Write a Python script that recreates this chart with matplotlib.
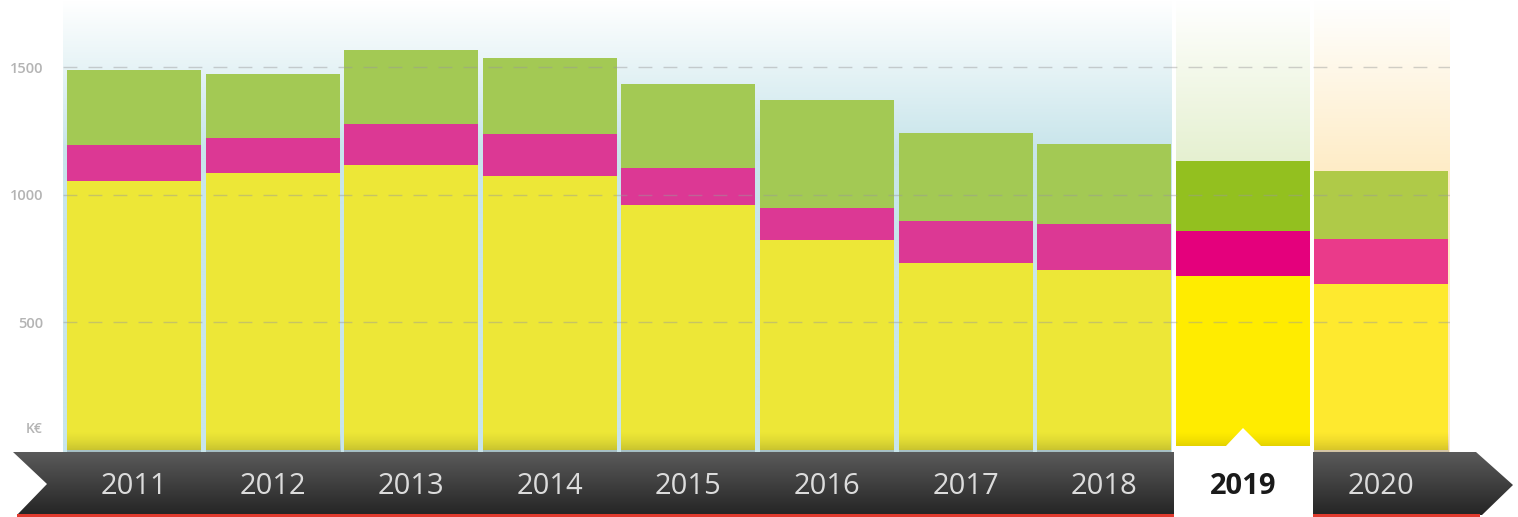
import numpy as np
import matplotlib
matplotlib.use("Agg")
import matplotlib.pyplot as plt
from matplotlib.patches import Polygon, Rectangle
from matplotlib.colors import to_rgb

# ---------------- data ----------------
years = ["2011", "2012", "2013", "2014", "2015", "2016", "2017", "2018", "2019", "2020"]
yellow_vals = [1055, 1086, 1117, 1074, 961, 824, 734, 707, 684, 652]
magenta_vals = [140, 137, 160, 164, 144, 125, 164, 180, 175, 176]
green_vals = [293, 250, 293, 297, 329, 422, 344, 312, 274, 266]
yticks = [500, 1000, 1500]
unit_label = "K€"
highlight = "2019"

# ---------------- styles ----------------
W, H = 1518, 517
plt.rcParams['font.family'] = ['Open Sans', 'DejaVu Sans']
fig = plt.figure(figsize=(W / 100, H / 100), dpi=100)

yellow_c = ["#ede737"] * 8 + ["#ffec00", "#fee92f"]
magenta_c = ["#dc3894"] * 8 + ["#e4007c", "#ea3a8a"]
green_c = ["#a3c954"] * 8 + ["#93c01f", "#afca48"]

def fx(px):
    return px / W

def fy(py):
    return 1 - py / H

# background axes (pixel coords)
bg = fig.add_axes([0, 0, 1, 1], zorder=0)
bg.set_xlim(0, W)
bg.set_ylim(H, 0)
bg.axis("off")

def vgrad(ax, x0, x1, y0, y1, c_top, c_bot, ymid=None):
    n = 256
    t = np.linspace(0, 1, n)
    if ymid is not None:
        t = np.clip(t / ymid, 0, 1)
    ct = np.array(to_rgb(c_top))
    cb = np.array(to_rgb(c_bot))
    img = ct[None, :] * (1 - t[:, None]) + cb[None, :] * t[:, None]
    img = img[:, None, :]
    ax.imshow(img, extent=(x0, x1, y1, y0), aspect="auto", interpolation="bilinear", zorder=0)

vgrad(bg, 63, 1172, 0, 452, "#ffffff", "#c8e5eb", ymid=0.33)
vgrad(bg, 1176, 1310, 0, 452, "#ffffff", "#e5f0d0", ymid=0.36)
vgrad(bg, 1314, 1450, 0, 452, "#ffffff", "#feecc6", ymid=0.38)

# main axes
px_per_unit = 0.2545
y_lo = -2 / px_per_unit
y_hi = 449 / px_per_unit
ax = fig.add_axes([fx(63), fy(452), fx(1450) - fx(63), fy(0) - fy(452)], zorder=1)
ax.patch.set_alpha(0)
x = np.arange(len(years))
spacing = 138.6
x_left = (63 - 134) / spacing
x_right = (1450 - 134) / spacing
ax.set_xlim(x_left, x_right)
ax.set_ylim(y_lo, y_hi)
bw = 134 / spacing
y = np.array(yellow_vals)
m = np.array(magenta_vals)
g = np.array(green_vals)
ax.bar(x, y, width=bw, color=yellow_c, zorder=2, linewidth=0)
ax.bar(x, m, bottom=y, width=bw, color=magenta_c, zorder=2, linewidth=0)
ax.bar(x, g, bottom=y + m, width=bw, color=green_c, zorder=2, linewidth=0)

# bottom shadow on bars
shade = np.zeros((64, 1, 4))
shade[:, 0, 3] = np.linspace(0, 0.18, 64) ** 1.5 / 0.18 ** 0.5
for xi in x:
    ax.imshow(shade, extent=(xi - bw / 2, xi + bw / 2, y_lo, 75), aspect="auto",
              interpolation="bilinear", zorder=3)
ax.set_xlim(x_left, x_right)
ax.set_ylim(y_lo, y_hi)

for t in yticks:
    ax.axhline(t, color="#9a9a9a", alpha=0.45, lw=1.0, dashes=(10, 8), zorder=4)
ax.set_yticks(yticks)
ax.set_yticklabels([str(t) for t in yticks], color="#b4b4b4", fontsize=10.5, fontweight="semibold")
ax.tick_params(axis="y", length=0, pad=14)
ax.set_xticks([])
for s in ax.spines.values():
    s.set_visible(False)

# overlay axes
ov = fig.add_axes([0, 0, 1, 1], zorder=2)
ov.set_xlim(0, W)
ov.set_ylim(H, 0)
ov.axis("off")
ov.text(43, 429, unit_label, ha="right", va="center", color="#b4b4b4", fontsize=10,
        fontweight="semibold")

# ribbon
rib_poly = [(13, 452), (1476, 452), (1513, 485), (1482, 515), (17, 515), (47, 484)]
ribbon = Polygon(rib_poly, closed=True, facecolor="none", edgecolor="none")
ov.add_patch(ribbon)
grad = np.linspace(0, 1, 128)[:, None]
ct = np.array(to_rgb("#5a5a5a"))
cb = np.array(to_rgb("#252525"))
rimg = (ct[None, :] * (1 - grad) + cb[None, :] * grad)[:, None, :]
im = ov.imshow(rimg, extent=(0, W, 515, 452), aspect="auto", interpolation="bilinear", zorder=5)
im.set_clip_path(ribbon)
ov.add_patch(Rectangle((17, 514), 1463, 3, facecolor="#e03a2e", edgecolor="none", zorder=6))

# highlight box
ov.add_patch(Rectangle((1174, 446), 139, 72, facecolor="white", edgecolor="none", zorder=7))
ov.add_patch(Polygon([(1225, 447), (1243, 428), (1262, 447)], closed=True,
                     facecolor="white", edgecolor="none", zorder=7))

ov.set_xlim(0, W)
ov.set_ylim(H, 0)

# year labels (positions from main axes data transform)
for i, yr in enumerate(years):
    disp = ax.transData.transform((i, 0))
    px = disp[0]
    if yr == highlight:
        ov.text(px, 487, yr, ha="center", va="center", fontsize=21, fontweight="bold",
                color="#1a1a1a", zorder=8)
    else:
        ov.text(px, 487, yr, ha="center", va="center", fontsize=21, color="#dcdcdc", zorder=8)

fig.savefig("out.png", dpi=100)
